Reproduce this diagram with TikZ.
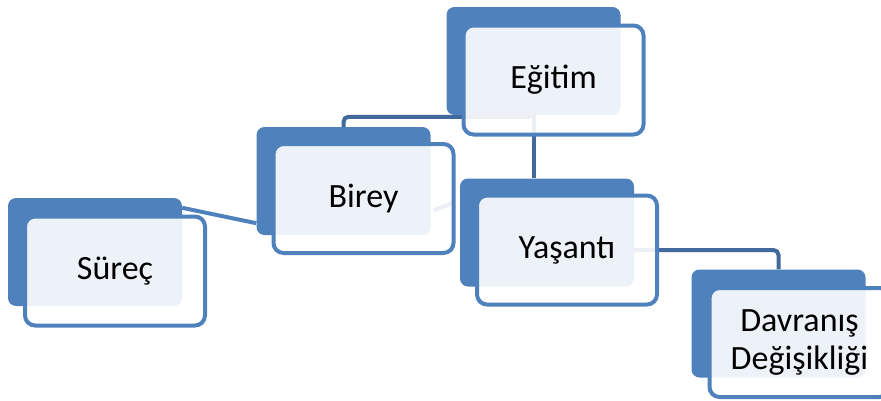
\documentclass[tikz,border=0pt]{standalone}
\usepackage{fontspec}
\setmainfont{Carlito}
\usetikzlibrary{backgrounds}
\definecolor{boksblaa}{HTML}{4F81BD}
\definecolor{linjeblaa}{HTML}{41699B}

\begin{document}
\begin{tikzpicture}[x=1pt,y=-1pt,
    bak/.style={rectangle, rounded corners=8pt, fill=boksblaa, minimum width=174pt, minimum height=108pt, inner sep=0pt},
    foran/.style={rectangle, rounded corners=10pt, draw=boksblaa, line width=4pt, fill=white, fill opacity=0.9, text opacity=1, minimum width=180pt, minimum height=109pt, align=center, font=\fontsize{34}{38}\selectfont},
    link/.style={draw=linjeblaa, line width=4pt, rounded corners=5pt}]
    \useasboundingbox (0,0) rectangle (881,400);

    %Bokse
        \node[bak] (suB) at (95,252) {};
        \node[foran] (suF) at (115,271) {Süreç};
        \node[bak] (biB) at (343.5,181) {};
        \node[foran] (biF) at (363.5,198.5) {Birey};
        \node[bak] (egB) at (533.5,61) {};
        \node[foran] (egF) at (553.5,80) {Eğitim};
        \node[bak] (yaB) at (547,232.5) {};
        \node[foran] (yaF) at (567,250) {Yaşantı};
        \node[bak] (daB) at (778.5,323.5) {};
        \node[foran] (daF) at (799.5,342.5) {Davranış\\Değişikliği};

    %Linjer
    \begin{scope}[on background layer]
        \draw[link, draw=boksblaa] ([yshift=-10pt]suB.north east) -- ([yshift=12pt]biB.south west);
        \draw[link] ([xshift=-2pt,yshift=-4pt]biF.east) -- ++(-20,8);
        \draw[link] (biB.north) -- ++(0,-10) -| (egB.south);
        \draw[link] (egB.south) -- (egB.south |- yaB.north);
        \draw[link] (yaF.center) -| (daB.north);
    \end{scope}
\end{tikzpicture}
\end{document}
